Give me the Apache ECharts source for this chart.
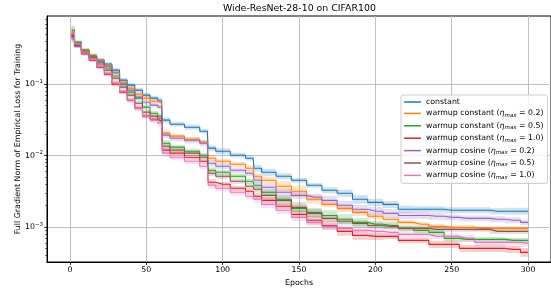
<!DOCTYPE html>
<html>
<head>
<meta charset="utf-8">
<title>Wide-ResNet-28-10 on CIFAR100</title>
<style>
    html, body {
        margin: 0;
        padding: 0;
        background: #fff;
    }

    #chart {
        width: 551px;
        height: 289px;
    }
</style>
<script src="https://cdn.jsdelivr.net/npm/echarts@6/dist/echarts.min.js"></script>
</head>
<body>
<div id="chart"></div>
<script>
    var epochs = [1, 5, 10, 15, 20, 25, 30, 35, 40, 45, 50, 55, 60, 61, 70, 80, 90, 91, 100, 110,
        120, 121, 130, 140, 150, 160, 170, 180, 190, 200, 210, 220, 230, 240, 250, 260, 270, 280, 290, 300];

    var constant = [0.471, 0.364, 0.290, 0.247, 0.217, 0.191, 0.157, 0.114, 0.0968, 0.0824, 0.0701, 0.0636, 0.0596,
        0.0313, 0.0275, 0.0249, 0.0219, 0.0127, 0.0115, 0.0101, 0.00917, 0.00664, 0.00583, 0.00513, 0.00450,
        0.00383, 0.00326, 0.00296, 0.00244, 0.00221, 0.00207, 0.00177, 0.00177, 0.00177, 0.00171, 0.00171,
        0.00171, 0.00166, 0.00166, 0.00166];
    var warmConst02 = [0.519, 0.376, 0.300, 0.255, 0.217, 0.185, 0.147, 0.107, 0.0879, 0.0724, 0.0636, 0.0577, 0.0541,
        0.0206, 0.0187, 0.0169, 0.0154, 0.00917, 0.00832, 0.00755, 0.00664, 0.00513, 0.00450, 0.00371, 0.00316,
        0.00244, 0.00207, 0.00182, 0.00160, 0.00141, 0.00128, 0.00116, 0.00109, 0.00102, 0.000987, 0.000987,
        0.000956, 0.000956, 0.000956, 0.000956];
    var warmConst05 = [0.572, 0.388, 0.300, 0.247, 0.203, 0.168, 0.130, 0.100, 0.0772, 0.0636, 0.0476, 0.0392, 0.0356,
        0.0149, 0.0131, 0.0115, 0.0101, 0.00622, 0.00583, 0.00513, 0.00436, 0.00383, 0.00306, 0.00244, 0.00182,
        0.00160, 0.00145, 0.00128, 0.00116, 0.00109, 0.00105, 0.000956, 0.000896, 0.000840, 0.000692, 0.000670,
        0.000670, 0.000670, 0.000649, 0.000649];
    var warmConst10 = [0.471, 0.341, 0.264, 0.217, 0.173, 0.138, 0.100, 0.0772, 0.0596, 0.0461, 0.0356, 0.0323, 0.0303,
        0.0119, 0.0108, 0.00947, 0.00832, 0.00422, 0.00396, 0.00348, 0.00316, 0.00269, 0.00236, 0.00195, 0.00150,
        0.00124, 0.00105, 0.000868, 0.000762, 0.000738, 0.000738, 0.000649, 0.000649, 0.000570, 0.000570, 0.000501,
        0.000501, 0.000501, 0.000485, 0.000440];
    var warmCos02 = [0.442, 0.341, 0.281, 0.239, 0.210, 0.179, 0.143, 0.100, 0.0824, 0.0657, 0.0559, 0.0508, 0.0476,
        0.0193, 0.0175, 0.0164, 0.0149, 0.00780, 0.00708, 0.00622, 0.00565, 0.00450, 0.00359, 0.00306, 0.00277,
        0.00260, 0.00236, 0.00201, 0.00177, 0.00166, 0.00155, 0.00145, 0.00145, 0.00141, 0.00136, 0.00132,
        0.00132, 0.00128, 0.00124, 0.00116];
    var warmCos05 = [0.487, 0.352, 0.281, 0.232, 0.191, 0.157, 0.121, 0.0908, 0.0701, 0.0541, 0.0405, 0.0356, 0.0333,
        0.0135, 0.0119, 0.0108, 0.00947, 0.00565, 0.00513, 0.00436, 0.00371, 0.00337, 0.00277, 0.00236, 0.00188,
        0.00155, 0.00132, 0.00120, 0.00112, 0.00105, 0.00102, 0.000956, 0.000956, 0.000925, 0.000925, 0.000925,
        0.000925, 0.000868, 0.000868, 0.000868];
    var warmCos10 = [0.536, 0.364, 0.281, 0.224, 0.179, 0.143, 0.107, 0.0798, 0.0596, 0.0461, 0.0356, 0.0313, 0.0284,
        0.0108, 0.00947, 0.00832, 0.00708, 0.00383, 0.00348, 0.00306, 0.00269, 0.00244, 0.00207, 0.00171, 0.00136,
        0.00116, 0.00102, 0.000956, 0.000896, 0.000868, 0.000840, 0.000787, 0.000787, 0.000738, 0.000738, 0.000692,
        0.000608, 0.000608, 0.000608, 0.000589];

    // half-width of the shaded band, as a fraction of the value
    var constantSpread = [0.15, 0.08, 0.06, 0.06, 0.06, 0.06, 0.07, 0.07, 0.07, 0.08, 0.08, 0.08, 0.08, 0.1, 0.08, 0.08, 0.08, 0.1, 0.1, 0.08,
        0.08, 0.12, 0.12, 0.1, 0.08, 0.08, 0.1, 0.12, 0.15, 0.12, 0.12, 0.12, 0.1, 0.1, 0.1, 0.1, 0.1, 0.1, 0.12, 0.12];
    var warmConst02Spread = [0.15, 0.06, 0.06, 0.06, 0.06, 0.06, 0.06, 0.07, 0.07, 0.07, 0.07, 0.08, 0.08, 0.1, 0.08, 0.08, 0.08, 0.1, 0.08, 0.08,
        0.1, 0.1, 0.12, 0.18, 0.2, 0.15, 0.1, 0.12, 0.12, 0.1, 0.08, 0.08, 0.08, 0.08, 0.08, 0.08, 0.08, 0.08, 0.08, 0.08];
    var warmConst05Spread = [0.15, 0.06, 0.06, 0.06, 0.06, 0.07, 0.07, 0.07, 0.08, 0.08, 0.08, 0.08, 0.08, 0.1, 0.08, 0.08, 0.08, 0.1, 0.08, 0.08,
        0.08, 0.1, 0.1, 0.1, 0.12, 0.15, 0.18, 0.18, 0.15, 0.12, 0.12, 0.1, 0.1, 0.1, 0.1, 0.08, 0.08, 0.08, 0.08, 0.08];
    var warmConst10Spread = [0.15, 0.06, 0.06, 0.06, 0.06, 0.07, 0.07, 0.07, 0.08, 0.08, 0.08, 0.08, 0.08, 0.1, 0.08, 0.08, 0.08, 0.1, 0.08, 0.08,
        0.08, 0.1, 0.1, 0.1, 0.12, 0.15, 0.15, 0.15, 0.15, 0.12, 0.1, 0.1, 0.1, 0.12, 0.12, 0.12, 0.12, 0.12, 0.12, 0.15];
    var warmCos02Spread = [0.15, 0.06, 0.06, 0.06, 0.06, 0.06, 0.06, 0.07, 0.07, 0.07, 0.08, 0.08, 0.08, 0.1, 0.1, 0.1, 0.1, 0.1, 0.1, 0.1,
        0.1, 0.1, 0.12, 0.12, 0.12, 0.12, 0.15, 0.15, 0.15, 0.15, 0.15, 0.12, 0.12, 0.12, 0.1, 0.1, 0.1, 0.1, 0.1, 0.1];
    var warmCos05Spread = [0.15, 0.06, 0.06, 0.06, 0.06, 0.07, 0.07, 0.07, 0.08, 0.08, 0.08, 0.08, 0.08, 0.1, 0.08, 0.08, 0.08, 0.1, 0.08, 0.08,
        0.1, 0.12, 0.15, 0.18, 0.18, 0.15, 0.12, 0.1, 0.1, 0.1, 0.1, 0.08, 0.08, 0.08, 0.08, 0.08, 0.08, 0.08, 0.08, 0.08];
    var warmCos10Spread = [0.15, 0.08, 0.08, 0.08, 0.08, 0.08, 0.08, 0.08, 0.08, 0.08, 0.08, 0.08, 0.1, 0.12, 0.1, 0.1, 0.1, 0.12, 0.1, 0.1,
        0.1, 0.12, 0.12, 0.12, 0.12, 0.12, 0.12, 0.1, 0.1, 0.1, 0.1, 0.1, 0.1, 0.1, 0.1, 0.12, 0.12, 0.12, 0.12, 0.12];

    var xTicks = [0, 50, 100, 150, 200, 250, 300];
    var yTicks = [1e-3, 1e-2, 1e-1];
    var yMinorTicks = [4e-4, 5e-4, 6e-4, 7e-4, 8e-4, 9e-4, 2e-3, 3e-3, 4e-3, 5e-3, 6e-3, 7e-3, 8e-3, 9e-3,
        2e-2, 3e-2, 4e-2, 5e-2, 6e-2, 7e-2, 8e-2, 9e-2, 2e-1, 3e-1, 4e-1, 5e-1, 6e-1, 7e-1, 8e-1];

    var runs = [
        { name: 'constant', label: '{n|constant}', values: constant, spread: constantSpread, color: '#1f77b4' },
        { name: 'wc02', label: '{n|warmup constant (}{i|η}{s|max}{n| = 0.2)}', values: warmConst02, spread: warmConst02Spread, color: '#ff7f0e' },
        { name: 'wc05', label: '{n|warmup constant (}{i|η}{s|max}{n| = 0.5)}', values: warmConst05, spread: warmConst05Spread, color: '#2ca02c' },
        { name: 'wc10', label: '{n|warmup constant (}{i|η}{s|max}{n| = 1.0)}', values: warmConst10, spread: warmConst10Spread, color: '#d62728' },
        { name: 'wcos02', label: '{n|warmup cosine (}{i|η}{s|max}{n| = 0.2)}', values: warmCos02, spread: warmCos02Spread, color: '#9467bd' },
        { name: 'wcos05', label: '{n|warmup cosine (}{i|η}{s|max}{n| = 0.5)}', values: warmCos05, spread: warmCos05Spread, color: '#8c564b' },
        { name: 'wcos10', label: '{n|warmup cosine (}{i|η}{s|max}{n| = 1.0)}', values: warmCos10, spread: warmCos10Spread, color: '#e377c2' }
    ];

    var font = 'DejaVu Sans';
    var series = [];

    // shaded band: one stepped polygon per run, mapped through the axes with api.coord
    runs.forEach(function (run) {
        var rows = run.values.map(function (v, i) {
            return [epochs[i], v / (1 + run.spread[i]), v * (1 + run.spread[i])];
        });
        series.push({
            type: 'custom',
            silent: true,
            z: 1,
            data: rows,
            encode: { x: 0, y: [1, 2] },
            renderItem: function (params, api) {
                if (params.dataIndex !== 0) {
                    return;
                }
                var top = [];
                var bottom = [];
                var n = rows.length;
                rows.forEach(function (r, i) {
                    var xa = i === 0 ? r[0] : (rows[i - 1][0] + r[0]) / 2;
                    var xb = i === n - 1 ? r[0] : (r[0] + rows[i + 1][0]) / 2;
                    top.push(api.coord([xa, r[2]]), api.coord([xb, r[2]]));
                    bottom.unshift(api.coord([xb, r[1]]), api.coord([xa, r[1]]));
                });
                return {
                    type: 'polygon',
                    shape: { points: top.concat(bottom) },
                    style: { fill: run.color, opacity: 0.22 }
                };
            }
        });
    });

    runs.forEach(function (run) {
        series.push({
            name: run.name,
            type: 'line',
            step: 'middle',
            data: run.values.map(function (v, i) { return [epochs[i], v]; }),
            symbol: 'none',
            showSymbol: false,
            color: run.color,
            lineStyle: { width: 1.1, color: run.color },
            z: 3
        });
    });

    var labelMap = {};
    runs.forEach(function (run) { labelMap[run.name] = run.label; });

    var chart = echarts.init(document.getElementById('chart'));
    chart.setOption({
        animation: false,
        textStyle: { fontFamily: font },
        title: {
            text: 'Wide-ResNet-28-10 on CIFAR100',
            left: 223,
            top: 4,
            padding: 0,
            textStyle: { fontFamily: font, fontSize: 9.4, fontWeight: 'normal', color: '#000' }
        },
        grid: {
            left: 47, right: 0, top: 16, bottom: 27,
            containLabel: false,
            outerBoundsMode: 'none',
            show: true, borderColor: '#000', borderWidth: 1, backgroundColor: 'transparent'
        },
        legend: {
            orient: 'vertical',
            left: 401,
            top: 95,
            data: runs.map(function (r) { return { name: r.name, icon: 'rect' }; }),
            formatter: function (name) { return labelMap[name]; },
            itemWidth: 17,
            itemHeight: 1.5,
            itemGap: 3.4,
            padding: [3, 4, 3, 3],
            backgroundColor: 'rgba(255,255,255,0.8)',
            borderColor: '#cccccc',
            borderWidth: 1,
            borderRadius: 2,
            textStyle: {
                fontFamily: font, fontSize: 7.8, color: '#000',
                rich: {
                    n: { fontFamily: font, fontSize: 7.8, color: '#000' },
                    i: { fontFamily: font, fontSize: 7.8, fontStyle: 'italic', color: '#000' },
                    s: { fontFamily: font, fontSize: 5.5, fontStyle: 'italic', color: '#000', padding: [4, 0, 0, 0] }
                }
            }
        },
        xAxis: {
            type: 'value',
            min: -15,
            max: 315,
            interval: 50,
            name: 'Epochs',
            nameLocation: 'middle',
            nameGap: 17,
            nameMoveOverlap: false,
            nameTextStyle: { fontFamily: font, fontSize: 7.8, color: '#000' },
            axisLine: { show: true, onZero: false, lineStyle: { color: '#000', width: 1 } },
            axisTick: { show: true, length: 3, customValues: xTicks, lineStyle: { color: '#000', width: 0.8 } },
            axisLabel: { customValues: xTicks, fontFamily: font, fontSize: 7.8, color: '#000', margin: 4 },
            splitLine: { show: true, lineStyle: { color: '#b8b8b8', width: 0.9 } }
        },
        yAxis: [
            {
                type: 'log',
                logBase: 10,
                min: 3.23e-4,
                max: 0.9,
                name: 'Full Gradient Norm of Empirical Loss for Training',
                nameLocation: 'middle',
                nameGap: 25,
                nameMoveOverlap: false,
                nameTextStyle: { fontFamily: font, fontSize: 7.9, color: '#000' },
                axisLine: { show: true, onZero: false, lineStyle: { color: '#000', width: 1 } },
                axisTick: { show: true, length: 3, customValues: yTicks, lineStyle: { color: '#000', width: 0.8 } },
                axisLabel: {
                    customValues: yTicks,
                    margin: 4,
                    formatter: function (v) {
                        var e = Math.round(Math.log10(v));
                        return '{b|10}{e|−' + Math.abs(e) + '}';
                    },
                    rich: {
                        b: { fontFamily: font, fontSize: 7.8, color: '#000' },
                        e: { fontFamily: font, fontSize: 5.5, color: '#000', padding: [0, 0, 5, 0] }
                    }
                },
                splitLine: { show: true, lineStyle: { color: '#b8b8b8', width: 0.9 } }
            },
            {
                type: 'log',
                logBase: 10,
                min: 3.23e-4,
                max: 0.9,
                position: 'left',
                axisLine: { show: false, onZero: false },
                axisTick: { show: true, length: 1.8, customValues: yMinorTicks, lineStyle: { color: '#000', width: 0.6 } },
                axisLabel: { show: false },
                splitLine: { show: false }
            }
        ],
        series: series
    });
</script>
</body>
</html>
